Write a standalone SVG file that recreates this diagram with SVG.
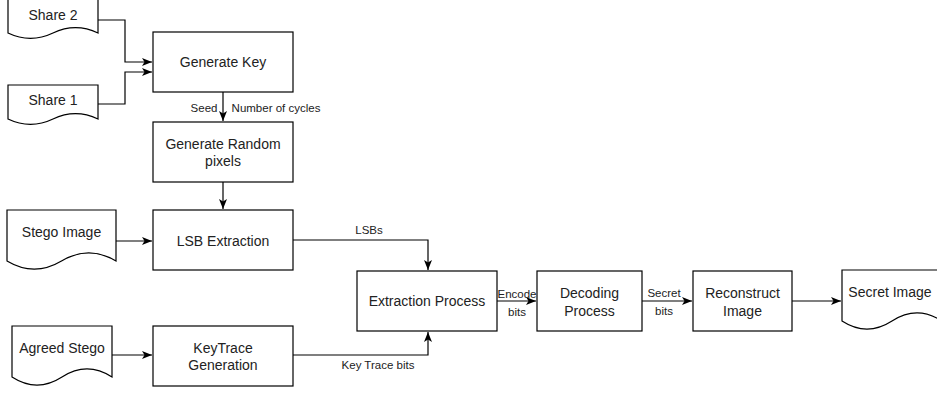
<svg xmlns="http://www.w3.org/2000/svg" width="937" height="394" viewBox="0 0 937 394">
  <style>
    .box { fill: #ffffff; stroke: #000000; stroke-width: 1.2; }
    .doc { fill: #ffffff; stroke: #000000; stroke-width: 1.2; }
    .lbl { font-family: "Liberation Sans", Arial, sans-serif; font-size: 14px; fill: #222222; text-anchor: middle; }
    .elbl { font-family: "Liberation Sans", Arial, sans-serif; font-size: 11.5px; fill: #222222; text-anchor: middle; }
    .edge { fill: none; stroke: #000000; stroke-width: 1.2; marker-end: url(#arrow); }
  </style>
  <defs>
    <marker id="arrow" markerUnits="userSpaceOnUse" markerWidth="11" markerHeight="9" refX="10" refY="4" orient="auto">
      <path d="M0,0 L10,4 L0,8 L2.5,4 Z" fill="#000000"/>
    </marker>
  </defs>
  <rect width="937" height="394" fill="#ffffff"/>

  <!-- connectors -->
  <g id="connectors">
    <path class="edge" d="M98,20 H125 V62 H152"/>
    <path class="edge" d="M98,104 H125 V72 H152"/>
    <path class="edge" d="M223,92 V121"/>
    <text class="elbl" x="204" y="112">Seed</text>
    <text class="elbl" x="276" y="112">Number of cycles</text>
    <path class="edge" d="M223,182 V209"/>
    <path class="edge" d="M116,241 H152"/>
    <path class="edge" d="M293,240 H428 V270"/>
    <text class="elbl" x="369" y="234">LSBs</text>
    <path class="edge" d="M112,355 H152"/>
    <path class="edge" d="M293,355 H428 V332"/>
    <text class="elbl" x="378" y="369">Key Trace bits</text>
    <path class="edge" d="M497,301 H536"/>
    <text class="elbl" x="517" y="298">Encode</text>
    <text class="elbl" x="517" y="316">bits</text>
    <path class="edge" d="M642,301 H692"/>
    <text class="elbl" x="664" y="297">Secret</text>
    <text class="elbl" x="664" y="315">bits</text>
    <path class="edge" d="M792,301 H841"/>
  </g>

  <!-- document shapes -->
  <g id="share2">
    <path class="doc" d="M8,-1 H98 V33 Q75.5,22.2 53,33 Q30.5,43.8 8,33 Z"/>
    <text class="lbl" x="53" y="20">Share 2</text>
  </g>
  <g id="share1">
    <path class="doc" d="M8,85 H98 V119 Q75.5,108.2 53,119 Q30.5,129.8 8,119 Z"/>
    <text class="lbl" x="53" y="105">Share 1</text>
  </g>
  <g id="stego-image">
    <path class="doc" d="M7,210 H116 V261 Q88.75,244.8 61.5,261 Q34.25,277.2 7,261 Z"/>
    <text class="lbl" x="61.5" y="237">Stego Image</text>
  </g>
  <g id="agreed-stego">
    <path class="doc" d="M12,326 H112 V377 Q87,360.8 62,377 Q37,393.2 12,377 Z"/>
    <text class="lbl" x="62" y="353">Agreed Stego</text>
  </g>
  <g id="secret-image">
    <path class="doc" d="M842,270 H942 V321 Q917,304.8 892,321 Q867,337.2 842,321 Z"/>
    <text class="lbl" x="890" y="297">Secret Image</text>
  </g>

  <!-- process boxes -->
  <g id="generate-key">
    <rect class="box" x="153" y="32" width="140" height="60"/>
    <text class="lbl" x="223" y="67">Generate Key</text>
  </g>
  <g id="generate-random-pixels">
    <rect class="box" x="153" y="122" width="140" height="60"/>
    <text class="lbl" x="223" y="148.5">Generate Random</text>
    <text class="lbl" x="223" y="166">pixels</text>
  </g>
  <g id="lsb-extraction">
    <rect class="box" x="153" y="210" width="140" height="60"/>
    <text class="lbl" x="223" y="246">LSB Extraction</text>
  </g>
  <g id="keytrace-generation">
    <rect class="box" x="153" y="326" width="140" height="60"/>
    <text class="lbl" x="223" y="352.5">KeyTrace</text>
    <text class="lbl" x="223" y="370">Generation</text>
  </g>
  <g id="extraction-process">
    <rect class="box" x="357" y="271" width="140" height="60"/>
    <text class="lbl" x="427" y="306">Extraction Process</text>
  </g>
  <g id="decoding-process">
    <rect class="box" x="537" y="271" width="105" height="60"/>
    <text class="lbl" x="589.5" y="298">Decoding</text>
    <text class="lbl" x="589.5" y="315.5">Process</text>
  </g>
  <g id="reconstruct-image">
    <rect class="box" x="693" y="271" width="99" height="60"/>
    <text class="lbl" x="742.5" y="298">Reconstruct</text>
    <text class="lbl" x="742.5" y="315.5">Image</text>
  </g>
</svg>
